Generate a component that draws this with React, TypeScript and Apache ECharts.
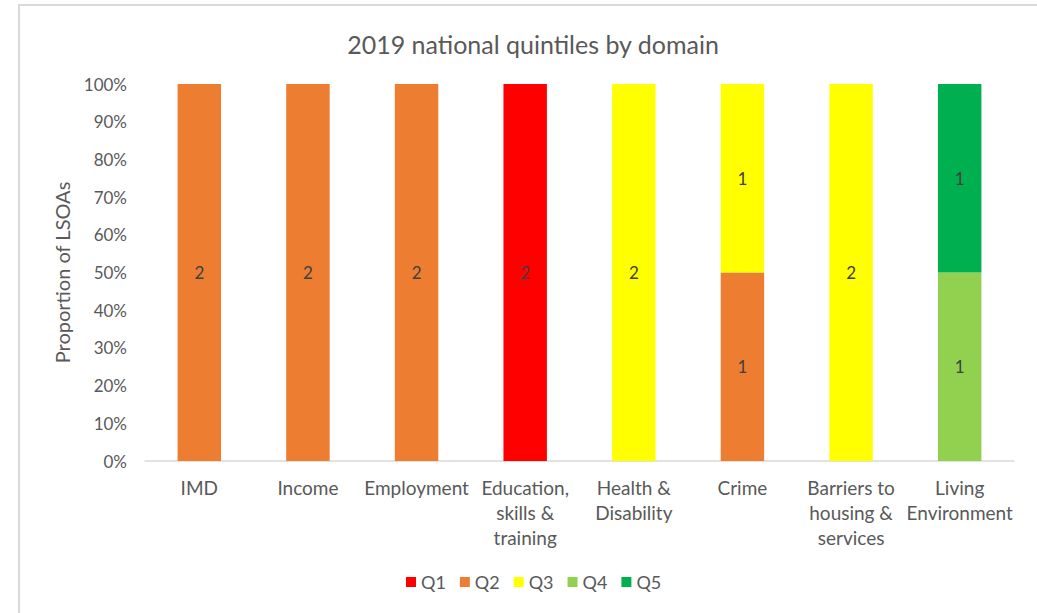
import React, { useEffect, useRef } from "react";
import * as echarts from "echarts";

const categories = [
  "IMD",
  "Income",
  "Employment",
  "Education,\nskills &\ntraining",
  "Health &\nDisability",
  "Crime",
  "Barriers to\nhousing &\nservices",
  "Living\nEnvironment",
];
const seriesNames = ["Q1", "Q2", "Q3", "Q4", "Q5"];
const colors = ["#FF0000", "#ED7D31", "#FFFF00", "#92D050", "#00B050"];
const q1 = [0, 0, 0, 2, 0, 0, 0, 0];
const q2 = [2, 2, 2, 0, 0, 1, 0, 0];
const q3 = [0, 0, 0, 0, 2, 1, 2, 0];
const q4 = [0, 0, 0, 0, 0, 0, 0, 1];
const q5 = [0, 0, 0, 0, 0, 0, 0, 1];
const counts = [q1, q2, q3, q4, q5];
const yTicks = [0, 10, 20, 30, 40, 50, 60, 70, 80, 90, 100];

const FONT = "Lato";

export default function App() {
  const ref = useRef<HTMLDivElement>(null);
  useEffect(() => {
    if (!ref.current) return;
    const chart = echarts.init(ref.current, null, { renderer: "svg" });
    const totals = categories.map((_, i) => counts.reduce((s, arr) => s + arr[i], 0));
    const series = seriesNames.map((name, si) => ({
      name,
      type: "bar",
      stack: "total",
      barWidth: "40%",
      itemStyle: { color: colors[si] },
      data: counts[si].map((c, i) => ({ value: totals[i] ? (c / totals[i]) * 100 : 0, count: c })),
      label: {
        show: true,
        position: "inside",
        color: "#404040",
        fontFamily: FONT,
        fontSize: 17,
        formatter: (p: any) => (p.data.count ? String(p.data.count) : ""),
      },
    }));
    chart.setOption({
      animation: false,
      backgroundColor: "#ffffff",
      title: {
        text: "2019 national quintiles by domain",
        left: 528,
        textAlign: "center",
        top: 26,
        textStyle: { fontFamily: FONT, fontSize: 25, fontWeight: "normal", color: "#595959" },
      },
      graphic: [
        {
          type: "rect",
          shape: { x: 19, y: 5, width: 1100, height: 700 },
          style: { fill: "none", stroke: "#d9d9d9", lineWidth: 2 },
          silent: true,
        },
      ],
      legend: {
        data: seriesNames,
        bottom: 17,
        left: 401,
        itemWidth: 10,
        itemHeight: 10,
        itemGap: 14,
        icon: "rect",
        textStyle: { fontFamily: FONT, fontSize: 18, color: "#595959" },
      },
      grid: { left: 145, right: 23, top: 84, bottom: 152 },
      xAxis: {
        type: "category",
        data: categories,
        axisLine: { lineStyle: { color: "#d9d9d9", width: 1.5 } },
        axisTick: { show: false },
        axisLabel: {
          interval: 0,
          fontFamily: FONT,
          fontSize: 19,
          color: "#595959",
          lineHeight: 25,
          margin: 14,
        },
      },
      yAxis: {
        type: "value",
        min: 0,
        max: 100,
        interval: 10,
        name: "Proportion of LSOAs",
        nameLocation: "middle",
        nameGap: 73,
        nameTextStyle: { fontFamily: FONT, fontSize: 20, color: "#595959" },
        splitLine: { show: false },
        axisLine: { show: false },
        axisTick: { show: false },
        axisLabel: {
          fontFamily: FONT,
          fontSize: 17,
          color: "#595959",
          margin: 18,
          formatter: (v: number) => (yTicks.includes(v) ? v + "%" : ""),
        },
      },
      series,
    });
    return () => chart.dispose();
  }, []);
  return (
    <div
      ref={ref}
      style={{ position: "fixed", left: 0, top: 0, width: 1037, height: 613 }}
    />
  );
}
